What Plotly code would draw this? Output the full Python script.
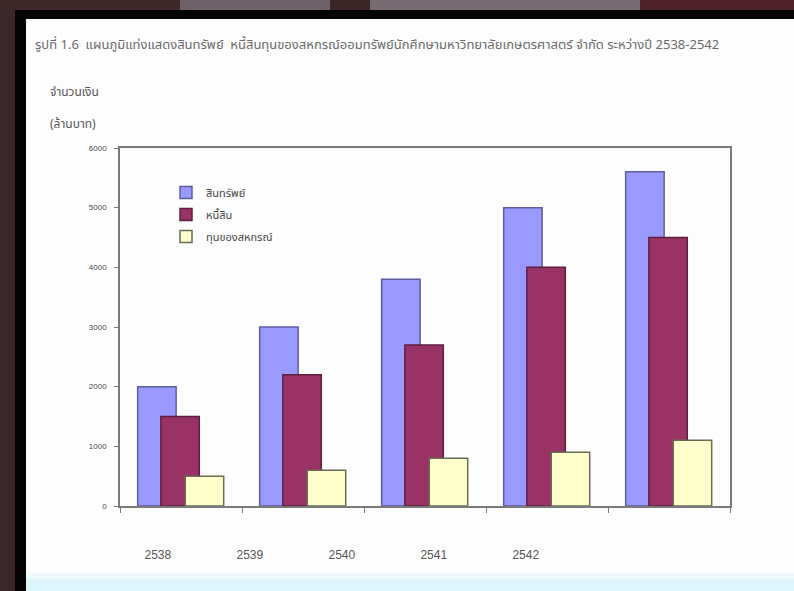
import plotly.graph_objects as go

# ปี พ.ศ. และมูลค่า (ล้านบาท)
years = ["2538", "2539", "2540", "2541", "2542"]
assets = [2000, 3000, 3800, 5000, 5600]
liabilities = [1500, 2200, 2700, 4000, 4500]
equity = [500, 600, 800, 900, 1100]
series_names = ["สินทรัพย์", "หนี้สิน", "ทุนของสหกรณ์"]
y_ticks = [0, 1000, 2000, 3000, 4000, 5000, 6000]

W, H = 794, 591
L, R, T, B = 120, 64, 148, 85
PW, PH = W - L - R, H - T - B

THAI = "Noto Sans Thai, Loma, Garuda, Tlwg Typo, Noto Sans, sans-serif"
NUM = "Liberation Sans Narrow, Liberation Sans, sans-serif"


def px_x(px):
    return (px - L) / PW


def px_y(py):
    return (H - B - py) / PH


idx = list(range(len(years)))

fills = ["#9999ff", "#993366", "#ffffcc"]
edges = ["#5c5c9e", "#5e1f3f", "#6b6b55"]
offsets = [-0.355, -0.165, 0.035]
values = [assets, liabilities, equity]

fig = go.Figure()
for name, vals, fc, ec, off in zip(series_names, values, fills, edges, offsets):
    fig.add_trace(go.Bar(
        x=idx, y=vals, name=name, legendgroup=name,
        width=0.315, offset=off,
        marker=dict(color=fc, line=dict(color=ec, width=1.5)),
    ))

# year labels sit on a slightly tighter spacing than the bar groups
label_pos = [-0.19 + 0.754 * i for i in idx]

shapes = []


def rect(x0, y0, x1, y1, color, layer="below"):
    shapes.append(dict(type="rect", xref="paper", yref="paper",
                       x0=px_x(x0), x1=px_x(x1), y0=px_y(y1), y1=px_y(y0),
                       fillcolor=color, line=dict(width=0), layer=layer))


# surrounding backdrop and page frame
rect(0, 0, 180, 10, "#3f2729")
rect(180, 0, 330, 10, "#6f6168")
rect(330, 0, 370, 10, "#3c2427")
rect(370, 0, 640, 10, "#776a71")
rect(640, 0, 794, 10, "#4c2228")
rect(0, 10, 15, 591, "#3b2729")
rect(15, 10, 794, 19, "#050505")
rect(15, 19, 26, 591, "#050505")
rect(26, 19, 794, 573, "#fdfdfd")
rect(26, 573, 794, 579, "#eefbfd")
rect(26, 579, 794, 591, "#dcf6fb")

annotations = [
    dict(text="รูปที่ 1.6  แผนภูมิแท่งแสดงสินทรัพย์  หนี้สินทุนของสหกรณ์ออมทรัพย์นักศึกษามหาวิทยาลัยเกษตรศาสตร์ จำกัด ระหว่างปี 2538-2542",
         xref="paper", yref="paper", x=px_x(33), y=px_y(45),
         xanchor="left", yanchor="middle", showarrow=False,
         font=dict(family=THAI, size=13, color="#6a6a6a")),
    dict(text="จำนวนเงิน", xref="paper", yref="paper", x=px_x(48), y=px_y(92),
         xanchor="left", yanchor="middle", showarrow=False,
         font=dict(family=THAI, size=12, color="#555555")),
    dict(text="(ล้านบาท)", xref="paper", yref="paper", x=px_x(48), y=px_y(124),
         xanchor="left", yanchor="middle", showarrow=False,
         font=dict(family=THAI, size=12, color="#555555")),
]

fig.update_layout(
    width=W, height=H,
    margin=dict(l=L, r=R, t=T, b=B, pad=0),
    paper_bgcolor="#ffffff",
    plot_bgcolor="#ffffff",
    barmode="overlay",
    showlegend=True,
    legend=dict(x=px_x(166), y=px_y(178), xanchor="left", yanchor="top",
                bgcolor="rgba(0,0,0,0)", tracegroupgap=3,
                font=dict(family=THAI, size=11, color="#444444")),
    xaxis=dict(range=[-0.5, 4.5], showgrid=False, zeroline=False,
               showline=True, linecolor="#7a7a7a", linewidth=1.5, mirror=True,
               tickmode="array", tickvals=label_pos, ticktext=years,
               ticks="", ticklabelstandoff=37,
               tickfont=dict(family=NUM, size=12, color="#555555"),
               minor=dict(tickmode="linear", tick0=-0.5, dtick=1, ticks="outside",
                          ticklen=5, tickwidth=1, tickcolor="#7a7a7a", showgrid=False)),
    yaxis=dict(range=[0, 6000], showgrid=False, zeroline=False,
               showline=True, linecolor="#7a7a7a", linewidth=1.5, mirror=True,
               tickmode="array", tickvals=y_ticks, ticks="outside", ticklen=4,
               tickcolor="#7a7a7a", ticklabelstandoff=6,
               tickfont=dict(family=NUM, size=8, color="#4a4a4a")),
    shapes=shapes,
    annotations=annotations,
)

fig.write_html("out.html")
